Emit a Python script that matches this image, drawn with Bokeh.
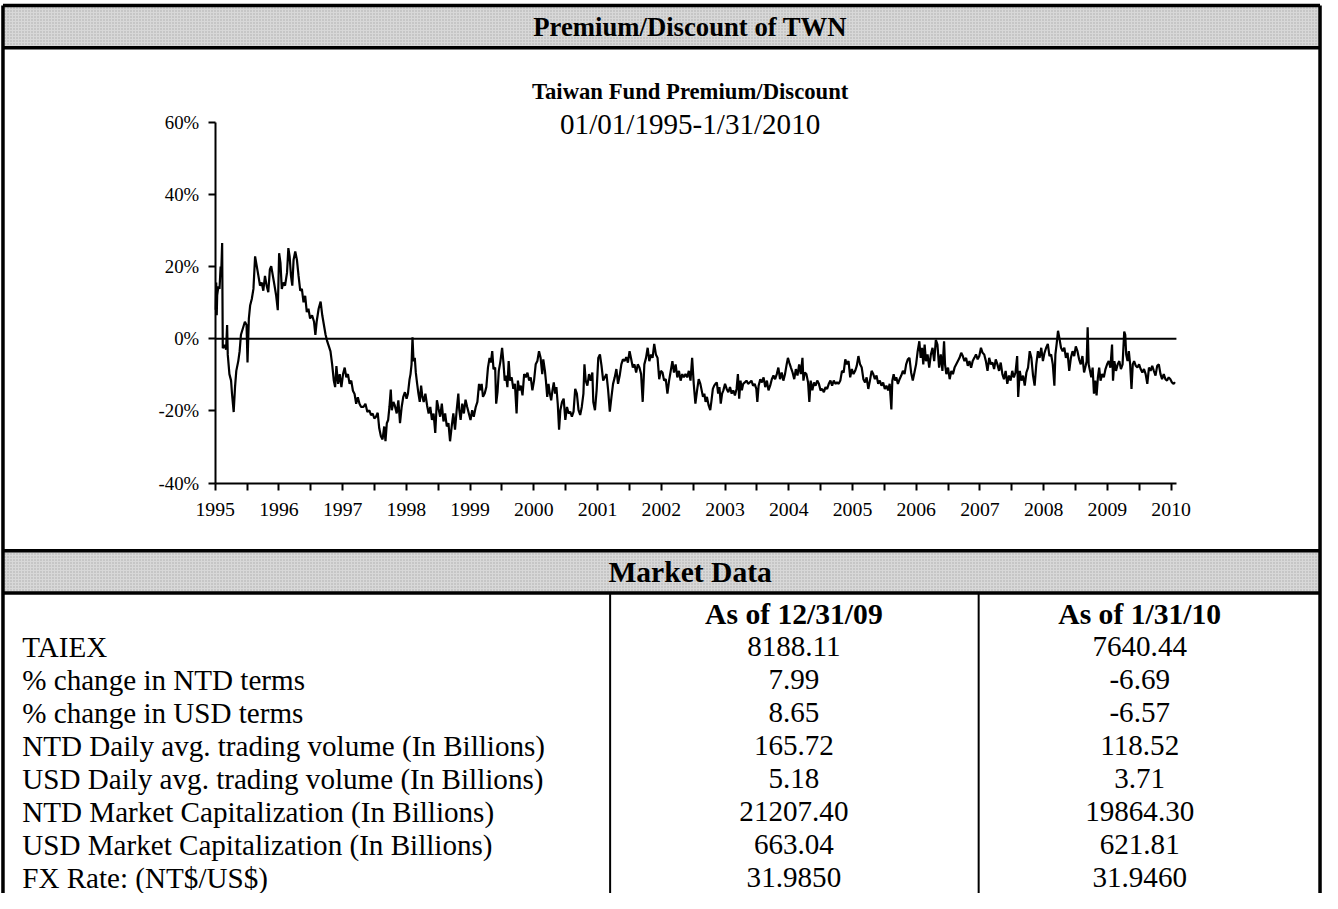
from bokeh.plotting import figure
from bokeh.models import Range1d, LinearAxis, FixedTicker, PrintfTickFormatter
from bokeh.core.properties import value
from bokeh.embed import file_html
from bokeh.resources import INLINE

# ---------------- data ----------------
dates = [
    1995.008, 1995.016, 1995.024, 1995.031, 1995.050, 1995.068, 1995.085, 1995.094, 1995.109, 1995.119,
    1995.145, 1995.171, 1995.187, 1995.197, 1995.223, 1995.249, 1995.264, 1995.290, 1995.311, 1995.331,
    1995.362, 1995.383, 1995.404, 1995.435, 1995.466, 1995.492, 1995.507, 1995.528, 1995.548, 1995.574,
    1995.600, 1995.626, 1995.652, 1995.678, 1995.703, 1995.729, 1995.755, 1995.781, 1995.807, 1995.833,
    1995.858, 1995.879, 1995.905, 1995.931, 1995.957, 1995.982, 1996.003, 1996.024, 1996.045, 1996.070,
    1996.096, 1996.127, 1996.148, 1996.168, 1996.189, 1996.210, 1996.230, 1996.256, 1996.282, 1996.308,
    1996.334, 1996.360, 1996.386, 1996.412, 1996.437, 1996.463, 1996.489, 1996.520, 1996.551, 1996.572,
    1996.592, 1996.623, 1996.654, 1996.680, 1996.706, 1996.732, 1996.758, 1996.784, 1996.809, 1996.835,
    1996.861, 1996.882, 1996.902, 1996.928, 1996.954, 1996.980, 1997.006, 1997.032, 1997.057, 1997.083,
    1997.109, 1997.135, 1997.161, 1997.187, 1997.212, 1997.238, 1997.264, 1997.290, 1997.326, 1997.357,
    1997.388, 1997.419, 1997.445, 1997.471, 1997.497,
    1997.523, 1997.550, 1997.574, 1997.600, 1997.626, 1997.652, 1997.672, 1997.693, 1997.714, 1997.734,
    1997.755, 1997.771, 1997.796, 1997.817, 1997.848, 1997.874, 1997.900, 1997.926, 1997.951, 1997.977,
    1998.003, 1998.024, 1998.050, 1998.065, 1998.081, 1998.096, 1998.112, 1998.132, 1998.148, 1998.169,
    1998.189, 1998.210, 1998.231, 1998.251, 1998.272, 1998.298, 1998.324, 1998.349, 1998.375, 1998.401,
    1998.427, 1998.453, 1998.479, 1998.504, 1998.530, 1998.556, 1998.582, 1998.608, 1998.634, 1998.660,
    1998.685, 1998.711, 1998.737, 1998.763, 1998.789, 1998.815, 1998.830, 1998.851, 1998.877, 1998.902,
    1998.928, 1998.954, 1998.980, 1999.006, 1999.032, 1999.057, 1999.088, 1999.114, 1999.140, 1999.161,
    1999.181, 1999.202, 1999.228, 1999.254, 1999.280, 1999.305, 1999.326, 1999.347, 1999.367, 1999.393,
    1999.409, 1999.430, 1999.450, 1999.476, 1999.502, 1999.523, 1999.543, 1999.564, 1999.585, 1999.605,
    1999.626, 1999.652, 1999.678, 1999.703, 1999.729, 1999.750, 1999.771, 1999.796, 1999.822, 1999.848,
    1999.874, 1999.900, 1999.926, 1999.951, 1999.977, 2000.003, 2000.029, 2000.055,
    2000.081, 2000.106, 2000.132, 2000.148, 2000.174, 2000.189, 2000.210, 2000.230, 2000.251, 2000.272,
    2000.292, 2000.313, 2000.334, 2000.354, 2000.375, 2000.396, 2000.416, 2000.442, 2000.468, 2000.494,
    2000.520, 2000.546, 2000.571, 2000.597, 2000.623, 2000.649, 2000.675, 2000.701, 2000.727, 2000.752,
    2000.778, 2000.794, 2000.814, 2000.840, 2000.866, 2000.892, 2000.918, 2000.933, 2000.959, 2000.985,
    2001.011, 2001.037, 2001.062, 2001.088, 2001.114, 2001.140, 2001.166, 2001.192, 2001.218, 2001.243,
    2001.269, 2001.295, 2001.321, 2001.347, 2001.373, 2001.398, 2001.424, 2001.450, 2001.476, 2001.502,
    2001.528, 2001.553, 2001.579, 2001.605, 2001.631, 2001.657, 2001.683, 2001.708, 2001.734, 2001.760,
    2001.786, 2001.812, 2001.838, 2001.863, 2001.889, 2001.915, 2001.941, 2001.967, 2001.993, 2002.019,
    2002.044, 2002.070, 2002.096, 2002.122, 2002.148, 2002.174, 2002.199, 2002.225, 2002.251, 2002.277,
    2002.303, 2002.329, 2002.354, 2002.380, 2002.406, 2002.432, 2002.458, 2002.484, 2002.509, 2002.535,
    2002.561, 2002.587, 2002.613,
    2002.654, 2002.675, 2002.695, 2002.716, 2002.742, 2002.768, 2002.788, 2002.809, 2002.830, 2002.850,
    2002.871, 2002.892, 2002.912, 2002.933, 2002.954, 2002.974, 2003.000, 2003.026, 2003.052, 2003.078,
    2003.104, 2003.129, 2003.155, 2003.181, 2003.202, 2003.222, 2003.243, 2003.264, 2003.285, 2003.310,
    2003.336, 2003.362, 2003.388, 2003.414, 2003.440, 2003.465, 2003.491, 2003.507, 2003.527, 2003.553,
    2003.579, 2003.605, 2003.631, 2003.657, 2003.682, 2003.708, 2003.734, 2003.760, 2003.786, 2003.812,
    2003.837, 2003.863, 2003.889, 2003.915, 2003.941, 2003.967, 2003.987, 2004.008, 2004.034, 2004.060,
    2004.086, 2004.111, 2004.137, 2004.163, 2004.189, 2004.215, 2004.230, 2004.251, 2004.277, 2004.303,
    2004.323, 2004.344, 2004.370, 2004.396, 2004.421, 2004.447, 2004.473, 2004.499, 2004.525, 2004.551,
    2004.577, 2004.602, 2004.628, 2004.654, 2004.680, 2004.706, 2004.732, 2004.757, 2004.783, 2004.809,
    2004.835, 2004.861, 2004.887, 2004.912, 2004.938, 2004.964, 2004.990, 2005.016, 2005.042, 2005.067,
    2005.093, 2005.119, 2005.145, 2005.171,
    2005.197, 2005.222, 2005.248, 2005.274, 2005.300, 2005.326, 2005.352, 2005.377, 2005.403, 2005.429,
    2005.455, 2005.481, 2005.507, 2005.532, 2005.558, 2005.584, 2005.610, 2005.625, 2005.646, 2005.667,
    2005.687, 2005.713, 2005.739, 2005.765, 2005.791, 2005.817, 2005.842, 2005.868, 2005.894, 2005.920,
    2005.946, 2005.972, 2005.998, 2006.023, 2006.049, 2006.070, 2006.091, 2006.111, 2006.132, 2006.153,
    2006.178, 2006.204, 2006.230, 2006.256, 2006.282, 2006.308, 2006.333, 2006.359, 2006.385, 2006.411,
    2006.437, 2006.452, 2006.473, 2006.499, 2006.525, 2006.551, 2006.576, 2006.602, 2006.628, 2006.654,
    2006.680, 2006.706, 2006.731, 2006.757, 2006.783, 2006.809, 2006.835, 2006.861, 2006.886, 2006.912,
    2006.938, 2006.964, 2006.990, 2007.016, 2007.041, 2007.067, 2007.093, 2007.119, 2007.145, 2007.171,
    2007.197, 2007.222, 2007.248, 2007.274, 2007.300, 2007.326, 2007.352, 2007.377, 2007.403, 2007.429,
    2007.455, 2007.481, 2007.507, 2007.532, 2007.558, 2007.584, 2007.600, 2007.625, 2007.651, 2007.677,
    2007.703, 2007.729,
    2007.755, 2007.781, 2007.807, 2007.833, 2007.858, 2007.884, 2007.910, 2007.936, 2007.962, 2007.988,
    2008.013, 2008.039, 2008.065, 2008.091, 2008.117, 2008.143, 2008.168, 2008.184, 2008.205, 2008.225,
    2008.246, 2008.272, 2008.298, 2008.324, 2008.349, 2008.375, 2008.401, 2008.427, 2008.453, 2008.479,
    2008.504, 2008.530, 2008.556, 2008.582, 2008.608, 2008.634, 2008.659, 2008.675, 2008.690, 2008.706,
    2008.727, 2008.747, 2008.768, 2008.789, 2008.809, 2008.830, 2008.851, 2008.871, 2008.892, 2008.918,
    2008.944, 2008.970, 2008.995, 2009.021, 2009.047, 2009.073, 2009.088, 2009.109, 2009.135, 2009.161,
    2009.187, 2009.212, 2009.238, 2009.264, 2009.280, 2009.295, 2009.316, 2009.336, 2009.357, 2009.378,
    2009.398, 2009.419, 2009.445, 2009.471, 2009.497, 2009.522, 2009.548, 2009.574, 2009.600, 2009.626,
    2009.652, 2009.678, 2009.703, 2009.729, 2009.755, 2009.781, 2009.807, 2009.833, 2009.858, 2009.884,
    2009.910, 2009.936, 2009.962, 2009.988, 2010.013, 2010.039, 2010.060,
]

premium = [
    8.0, 15.6, 6.5, 12.0, 14.5, 13.8, 20.0, 18.0, 26.5, -2.6,
    -1.7, -3.0, 3.8, -4.4, -9.8, -11.6, -15.3, -20.3, -13.4, -8.9,
    -6.2, -3.5, 1.1, 2.9, 4.7, 3.8, -6.6, 5.6, 9.2, 11.0,
    13.8, 22.8, 20.1, 17.4, 14.7, 15.6, 13.3, 17.4, 14.7, 12.9,
    19.2, 20.1, 17.4, 14.7, 11.9, 7.9, 23.7, 21.0, 13.8, 15.6,
    14.7, 18.3, 25.1, 22.8, 17.4, 14.7, 21.9, 24.2, 21.9, 17.4,
    13.3, 13.8, 10.1, 11.9, 7.4, 8.3, 5.6, 6.5, 4.7, 1.1,
    4.7, 8.3, 10.3, 6.5, 3.8, 1.1, -0.75, -2.1, -3.5, -7.1,
    -11.6, -13.4, -7.6, -12.5, -9.8, -13.4, -9.8, -8.0, -10.7, -9.8,
    -12.5, -11.6, -14.4, -15.3, -18.0, -16.2, -18.0, -18.9, -18.9, -18.0,
    -20.3, -19.8, -21.2, -20.7, -22.1,
    -21.6, -20.5, -24.8, -27.0, -27.9, -24.3, -28.4, -23.4, -22.5, -18.9,
    -14.1, -19.8, -17.5, -18.4, -20.7, -17.05, -23.4, -18.9, -16.1, -14.8,
    -16.6, -15.2, -11.2, -9.8, -7.1, 0.4, -6.2, -5.3, -9.4, -12.5,
    -15.2, -17.5, -13.0, -16.1, -17.5, -15.2, -18.4, -20.7, -18.9, -22.5,
    -20.7, -26.1, -17.05, -19.3, -21.6, -18.0, -22.9, -20.7, -24.3, -23.4,
    -28.4, -24.3, -20.7, -25.2, -19.8, -15.2, -19.8, -22.5, -18.0, -20.7,
    -16.9, -18.9, -20.7, -22.5, -19.8, -21.6, -18.9, -17.5, -12.5, -14.3,
    -12.5, -16.1, -15.2, -13.4, -8.0, -5.3, -6.6, -3.45, -8.4, -8.0,
    -18.0, -14.8, -8.9, -6.2, -2.5, -6.6, -11.6, -10.2, -13.4, -6.2,
    -11.6, -10.7, -13.9, -12.5, -20.7, -11.6, -14.3, -13.0, -15.7, -9.8,
    -10.7, -9.4, -11.6, -10.7, -14.3, -11.6, -7.1, -6.2,
    -3.45, -5.3, -9.8, -5.7, -8.9, -11.6, -16.1, -12.5, -15.2, -17.05,
    -14.3, -12.1, -15.2, -13.4, -18.0, -25.2, -19.8, -17.5, -16.6, -22.5,
    -18.9, -20.7, -20.2, -21.6, -20.2, -13.9, -15.2, -19.8, -21.1, -18.9,
    -15.2, -7.1, -11.6, -13.0, -9.8, -11.6, -9.35, -17.5, -19.8, -14.3,
    -5.3, -4.35, -7.5, -11.6, -10.7, -9.8, -14.3, -20.2, -16.1, -12.5,
    -10.7, -8.4, -12.5, -10.2, -7.1, -5.7, -6.2, -5.1, -6.6, -3.45,
    -5.7, -8.0, -7.1, -9.35, -7.1, -8.0, -9.8, -17.5, -7.1, -5.3,
    -2.5, -6.2, -4.35, -5.3, -1.45, -4.35, -5.3, -11.2, -8.9, -9.35,
    -11.6, -11.2, -15.2, -11.6, -8.9, -6.2, -9.35, -7.1, -10.7, -8.9,
    -11.6, -9.8, -10.7, -9.8, -10.7, -8.9, -11.6, -5.3, -12.5, -18.0,
    -14.3, -11.2, -12.5,
    -16.1, -15.2, -17.5, -16.1, -18.4, -19.8, -17.05, -13.9, -13.0, -12.5,
    -12.1, -15.2, -13.4, -18.0, -15.2, -14.3, -12.5, -13.9, -14.8, -13.4,
    -15.2, -14.3, -15.7, -13.9, -9.8, -16.6, -11.6, -14.3, -12.5, -12.1,
    -11.6, -12.5, -12.1, -11.6, -13.0, -12.5, -13.9, -17.5, -13.0, -11.2,
    -12.1, -10.7, -13.4, -11.6, -14.3, -13.0, -11.2, -10.2, -11.2, -9.8,
    -8.0, -11.2, -9.35, -11.6, -9.8, -7.1, -5.3, -6.6, -8.0, -9.35,
    -11.2, -8.4, -10.2, -7.1, -9.8, -5.3, -11.6, -9.35, -9.8, -12.1,
    -17.5, -11.6, -14.3, -12.1, -13.0, -11.6, -12.5, -14.3, -13.9, -14.8,
    -13.4, -13.9, -12.5, -11.6, -13.0, -11.6, -12.5, -12.1, -12.5, -11.6,
    -8.9, -9.35, -5.7, -7.1, -6.2, -10.7, -8.4, -9.8, -8.9, -7.5,
    -4.8, -7.1, -8.0, -11.2,
    -12.1, -10.7, -13.9, -11.6, -8.9, -9.8, -11.2, -10.2, -12.5, -11.6,
    -13.0, -12.1, -13.9, -13.0, -14.3, -12.5, -19.6, -11.6, -9.8, -11.6,
    -10.7, -12.5, -11.2, -10.2, -8.9, -9.8, -7.1, -5.7, -5.3, -9.35,
    -11.6, -9.35, -7.1, -3.45, -0.7, -5.3, -2.5, -7.1, -1.6, -6.2,
    -4.35, -8.0, -4.35, -2.5, -6.2, -0.3, -1.6, -8.0, -4.35, -8.9,
    -0.7, -7.1, -9.8, -8.0, -11.2, -8.9, -9.8, -8.0, -7.1, -6.2,
    -5.3, -3.9, -4.8, -6.2, -5.3, -7.5, -6.2, -8.0, -6.2, -5.3,
    -4.35, -5.7, -4.8, -2.5, -3.9, -4.35, -6.2, -8.9, -5.3, -7.1,
    -6.6, -8.4, -5.7, -7.1, -8.9, -6.6, -9.8, -11.2, -8.9, -12.5,
    -10.2, -11.6, -8.9, -10.7, -9.35, -4.8, -16.1, -8.9, -11.6, -10.2,
    -13.0, -9.35,
    -8.0, -3.45, -5.3, -10.2, -13.0, -7.1, -3.45, -5.3, -2.5, -6.2,
    -3.9, -2.5, -1.45, -4.8, -4.35, -7.1, -13.0, -4.35, -1.2, 2.2,
    0.2, -2.5, -3.45, -2.5, -5.3, -3.9, -8.9, -5.3, -3.45, -4.8,
    -2.1, -3.45, -5.7, -7.1, -4.8, -9.35, -7.5, -6.2, 3.2, -7.1,
    -8.9, -10.7, -8.0, -15.2, -11.6, -15.7, -10.7, -8.0, -11.6, -9.8,
    -10.7, -8.4, -7.1, -6.2, -8.0, -1.6, -11.6, -6.2, -8.9, -7.1,
    -6.2, -8.4, -7.1, 2.0, 1.1, -4.35, -6.2, -3.45, -7.1, -13.9,
    -7.1, -6.2, -7.5, -8.0, -7.1, -8.4, -9.35, -8.4, -9.8, -12.5,
    -8.0, -8.9, -7.5, -8.9, -10.2, -7.5, -7.1, -9.8, -11.2, -9.8,
    -11.2, -11.6, -10.7, -11.2, -12.1, -12.5, -12.0,
]

year_ticks = list(range(1995, 2011))
half_year_ticks = [y + 0.5 for y in range(1995, 2010)]
pct_ticks = [-40, -20, 0, 20, 40, 60]

header_title = "Premium/Discount of TWN"
chart_title = "Taiwan Fund Premium/Discount"
chart_subtitle = "01/01/1995-1/31/2010"
table_title = "Market Data"
col_headers = ["As of 12/31/09", "As of 1/31/10"]
row_labels = [
    "TAIEX",
    "% change in NTD terms",
    "% change in USD terms",
    "NTD Daily avg. trading volume (In Billions)",
    "USD Daily avg. trading volume (In Billions)",
    "NTD Market Capitalization (In Billions)",
    "USD Market Capitalization (In Billions)",
    "FX Rate: (NT$/US$)",
]
values_dec09 = ["8188.11", "7.99", "8.65", "165.72", "5.18", "21207.40", "663.04", "31.9850"]
values_jan10 = ["7640.44", "-6.69", "-6.57", "118.52", "3.71", "19864.30", "621.81", "31.9460"]

# ---------------- geometry ----------------
# canvas size; layout positions below are given on a 1338 x 909 sheet that is mapped onto it
W, H = 1322, 893
SHEET_W, SHEET_H = 1338, 909
X0, X1 = 1995.0, 2010.083
Y0, Y1 = -40, 60
AX_LEFT = 217.3      # sheet x of 1995
PX_YEAR = 64.5
ZERO_Y = 344.3       # sheet y of 0%
PX_PCT = 3.675
K = W / SHEET_W      # font scale

x_start = X0 - AX_LEFT / PX_YEAR
x_end = X0 + (SHEET_W - AX_LEFT) / PX_YEAR
y_top = ZERO_Y / PX_PCT
y_bot = (ZERO_Y - SHEET_H) / PX_PCT

SERIF = "Liberation Serif"

def fs(px):
    return "%.1fpx" % (px * K)

p = figure(width=W, height=H, x_range=Range1d(x_start, x_end), y_range=Range1d(y_bot, y_top),
           x_axis_type=None, y_axis_type=None, min_border=0, title=None,
           toolbar_location=None, output_backend="svg")
p.outline_line_color = None
p.background_fill_color = "white"
p.border_fill_color = "white"
p.extra_x_ranges = {"px": Range1d(0, SHEET_W)}
p.extra_y_ranges = {"px": Range1d(SHEET_H, 0)}
PX = dict(x_range_name="px", y_range_name="px")

LEFT_B, RIGHT_B = 2.5, 1335.5
TOP_B = 5
HEAD_BOT = 48
CHART_BOT = 560
MKT_BOT = 603
TABLE_BOT = SHEET_H
DIV1, DIV2 = 617, 990

# shaded title bars
p.quad(left=[LEFT_B, LEFT_B], right=[RIGHT_B, RIGHT_B], top=[TOP_B, CHART_BOT], bottom=[HEAD_BOT, MKT_BOT],
       fill_color="#d8d8d8", line_color=None, hatch_pattern="dot", hatch_color="#8a8a8a",
       hatch_scale=3, hatch_alpha=0.6, **PX)

# frame lines
p.segment(x0=[LEFT_B, LEFT_B, LEFT_B, LEFT_B, LEFT_B, RIGHT_B],
          y0=[TOP_B, HEAD_BOT, CHART_BOT, MKT_BOT, TOP_B, TOP_B],
          x1=[RIGHT_B, RIGHT_B, RIGHT_B, RIGHT_B, LEFT_B, RIGHT_B],
          y1=[TOP_B, HEAD_BOT, CHART_BOT, MKT_BOT, TABLE_BOT, TABLE_BOT],
          line_color="black", line_width=3.5, **PX)
p.segment(x0=[DIV1, DIV2], y0=[MKT_BOT, MKT_BOT], x1=[DIV1, DIV2], y1=[TABLE_BOT, TABLE_BOT],
          line_color="black", line_width=2, **PX)

# titles
CX = 698
p.text(x=[CX], y=[27], text=[header_title], text_font=value(SERIF), text_font_size=fs(27),
       text_font_style="bold", text_align="center", text_baseline="middle", text_color="black", **PX)
p.text(x=[CX], y=[93], text=[chart_title], text_font=value(SERIF), text_font_size=fs(23),
       text_font_style="bold", text_align="center", text_baseline="middle", text_color="black", **PX)
p.text(x=[CX], y=[126], text=[chart_subtitle], text_font=value(SERIF), text_font_size=fs(29.5),
       text_align="center", text_baseline="middle", text_color="black", **PX)
p.text(x=[CX], y=[582], text=[table_title], text_font=value(SERIF), text_font_size=fs(30),
       text_font_style="bold", text_align="center", text_baseline="middle", text_color="black", **PX)

# table
COL1, COL2 = 803, 1153
HEAD_Y = 624
ROW0, ROW_STEP = 658, 33.6
row_y = [ROW0 + i * ROW_STEP for i in range(len(row_labels))]
p.text(x=[COL1, COL2], y=[HEAD_Y, HEAD_Y], text=col_headers, text_font=value(SERIF), text_font_size=fs(30),
       text_font_style="bold", text_align="center", text_baseline="middle", text_color="black", **PX)
p.text(x=[22] * len(row_labels), y=row_y, text=row_labels, text_font=value(SERIF), text_font_size=fs(29.5),
       text_align="left", text_baseline="middle", text_color="black", **PX)
p.text(x=[COL1] * len(values_dec09), y=row_y, text=values_dec09, text_font=value(SERIF), text_font_size=fs(29.5),
       text_align="center", text_baseline="middle", text_color="black", **PX)
p.text(x=[COL2] * len(values_jan10), y=row_y, text=values_jan10, text_font=value(SERIF), text_font_size=fs(29.5),
       text_align="center", text_baseline="middle", text_color="black", **PX)

# chart
p.line(x=[X0, X1], y=[0, 0], line_color="black", line_width=2)
p.line(x=dates, y=premium, line_color="black", line_width=2.2)

xaxis = LinearAxis(fixed_location=Y0, bounds=(X0, X1),
                   ticker=FixedTicker(ticks=year_ticks, minor_ticks=half_year_ticks),
                   formatter=PrintfTickFormatter(format="%d"))
yaxis = LinearAxis(fixed_location=X0, bounds=(Y0, Y1),
                   ticker=FixedTicker(ticks=pct_ticks, minor_ticks=[]),
                   formatter=PrintfTickFormatter(format="%d%%"))
for ax in (xaxis, yaxis):
    ax.axis_line_width = 2
    ax.axis_line_color = "black"
    ax.major_tick_in = 0
    ax.major_tick_out = 7
    ax.minor_tick_in = 0
    ax.minor_tick_out = 7
    ax.major_tick_line_width = 2
    ax.minor_tick_line_width = 2
    ax.major_tick_line_color = "black"
    ax.minor_tick_line_color = "black"
    ax.major_label_text_font = SERIF
    ax.major_label_text_color = "black"
xaxis.major_label_text_font_size = fs(20)
xaxis.major_label_standoff = 13
yaxis.major_label_text_font_size = fs(19)
yaxis.major_label_standoff = 9
p.add_layout(xaxis, "below")
p.add_layout(yaxis, "left")

open("out.html", "w").write(file_html(p, INLINE))
